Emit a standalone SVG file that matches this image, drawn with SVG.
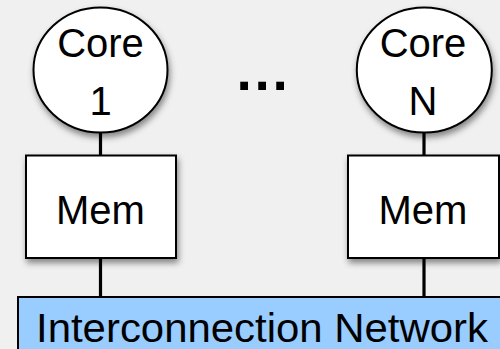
<svg xmlns="http://www.w3.org/2000/svg" width="500" height="349" viewBox="0 0 500 349">
  <defs>
    <filter id="shadow" x="-20%" y="-20%" width="150%" height="150%">
      <feDropShadow dx="1.5" dy="4" stdDeviation="3" flood-color="#000" flood-opacity="0.45"/>
    </filter>
    <style>
      .core { fill: #ffffff; stroke: #000; stroke-width: 2; filter: url(#shadow); }
      .mem { fill: #ffffff; stroke: #000; stroke-width: 2; filter: url(#shadow); }
      .net { fill: #99ccff; stroke: #000; stroke-width: 2; }
      .wire { stroke: #000; stroke-width: 3.2; fill: none; }
      .lbl { font-family: "Liberation Sans", Arial, sans-serif; font-size: 40px; fill: #000; text-anchor: middle; }
    </style>
  </defs>
  <rect x="0" y="0" width="500" height="349" fill="#f0f0f0"/>

  <!-- links between cores, memories and the network -->
  <g id="connectors">
    <line class="wire" x1="100.5" y1="132" x2="100.5" y2="156"/>
    <line class="wire" x1="100.5" y1="257" x2="100.5" y2="297"/>
    <line class="wire" x1="424" y1="132" x2="424" y2="156"/>
    <line class="wire" x1="424" y1="257" x2="424" y2="297"/>
  </g>

  <g id="network">
    <rect class="net" x="18" y="297" width="490" height="60"/>
    <text class="lbl" x="262" y="342" font-size="41" textLength="452" lengthAdjust="spacingAndGlyphs">Interconnection Network</text>
  </g>

  <g id="core1">
    <ellipse class="core" cx="100.5" cy="70" rx="67" ry="62.5"/>
    <text class="lbl" x="100.5" y="57">Core</text>
    <text class="lbl" x="100.5" y="115">1</text>
  </g>

  <g id="coreN">
    <ellipse class="core" cx="424.3" cy="70" rx="67.5" ry="62.5"/>
    <text class="lbl" x="423" y="57">Core</text>
    <text class="lbl" x="423" y="115">N</text>
  </g>

  <g id="mem1">
    <rect class="mem" x="26" y="155.5" width="150" height="102.5"/>
    <text class="lbl" x="100.5" y="224">Mem</text>
  </g>

  <g id="memN">
    <rect class="mem" x="348" y="155.5" width="151" height="102.5"/>
    <text class="lbl" x="423" y="224">Mem</text>
  </g>

  <g id="ellipsis">
    <text x="236.6" y="90" font-family="'Liberation Sans', Arial, sans-serif" font-size="55" font-weight="bold" letter-spacing="2.7" fill="#000">...</text>
  </g>
</svg>
